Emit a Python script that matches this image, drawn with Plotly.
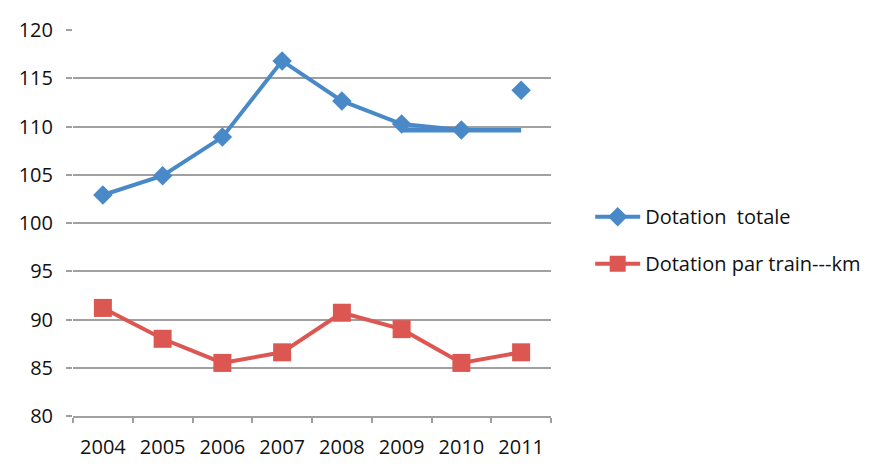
import plotly.graph_objects as go

annees = ["2004", "2005", "2006", "2007", "2008", "2009", "2010", "2011"]
dotation_totale = [102.9, 104.9, 108.9, 116.8, 112.65, 110.25, 109.65, 113.75]
dotation_train_km = [91.2, 88.0, 85.5, 86.6, 90.7, 89.0, 85.5, 86.6]
# horizontal level line drawn from 2009 to 2011 in the original
palier_annees = ["2009", "2010", "2011"]
palier_valeur = [109.6, 109.6, 109.6]

BLUE = "#4a89c8"
RED = "#dc5652"
FONT = "'Open Sans', Lato, sans-serif"

fig = go.Figure()

fig.add_trace(go.Scatter(
    x=palier_annees, y=palier_valeur, mode="lines",
    line=dict(color=BLUE, width=4.5), showlegend=False, hoverinfo="skip"))

fig.add_trace(go.Scatter(
    x=annees[:7], y=dotation_totale[:7], mode="lines+markers",
    name="Dotation  totale", legendgroup="a",
    line=dict(color=BLUE, width=4),
    marker=dict(symbol="diamond", size=15, color=BLUE)))

fig.add_trace(go.Scatter(
    x=annees[7:], y=dotation_totale[7:], mode="markers",
    marker=dict(symbol="diamond", size=15, color=BLUE),
    showlegend=False, legendgroup="a"))

fig.add_trace(go.Scatter(
    x=annees, y=dotation_train_km, mode="lines+markers",
    name="Dotation par train---km", legendgroup="b",
    line=dict(color=RED, width=4),
    marker=dict(symbol="square", size=18, color=RED)))

fig.update_layout(
    width=886, height=475,
    margin=dict(l=65, r=343, t=22, b=67),
    paper_bgcolor="white", plot_bgcolor="white",
    font=dict(family=FONT, size=20, color="#111111"),
    legend=dict(x=1.082, y=0.567, xanchor="left", yanchor="top",
                traceorder="grouped", tracegroupgap=18, itemwidth=45,
                font=dict(family=FONT, size=20, color="#111111"),
                bgcolor="rgba(0,0,0,0)"),
    xaxis=dict(type="category", categoryorder="array", categoryarray=annees,
               range=[-0.5, 7.5], showgrid=False, showline=True,
               linecolor="#a0a0a0", linewidth=1.5,
               ticks="outside", tickson="boundaries", ticklen=5,
               tickcolor="#a0a0a0", tickwidth=1.5,
               ticklabelstandoff=12, automargin=False,
               tickfont=dict(family=FONT, size=20)),
    yaxis=dict(range=[80, 120], dtick=5, tick0=80,
               showgrid=True, gridcolor="#a0a0a0", gridwidth=1.5,
               showline=False, zeroline=False,
               ticks="outside", ticklen=6, tickcolor="#a0a0a0", tickwidth=1.5,
               ticklabelstandoff=9, automargin=False,
               tickfont=dict(family=FONT, size=20)),
)

fig.write_html("out.html")
